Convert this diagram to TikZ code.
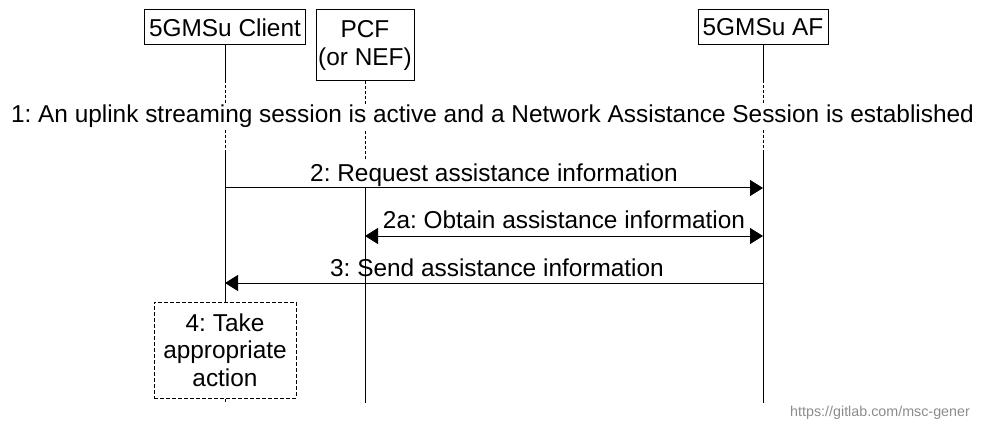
\documentclass[tikz,border=0pt]{standalone}
\usepackage{fontspec}
\setmainfont{Liberation Sans}
\usetikzlibrary{arrows.meta}
\begin{document}
\frenchspacing
\begin{tikzpicture}[x=1pt,y=-1pt,
  bigfont/.style={font=\fontsize{24.4}{28}\selectfont\frenchspacing},
  ent/.style={draw, line width=1pt, inner sep=0pt, align=center, bigfont},
  lbl/.style={inner sep=0pt, bigfont},
  msg/.style={line width=1pt, -{Triangle[length=13pt,width=16pt]}},
  bimsg/.style={line width=1pt, {Triangle[length=13pt,width=16pt]}-{Triangle[length=13pt,width=16pt]}},
  life/.style={line width=1pt},
  lifedash/.style={line width=1pt, dash pattern=on 3pt off 2pt},
  actbox/.style={draw, line width=1pt, dash pattern=on 4pt off 2pt, fill=white, inner sep=0pt, align=center, font=\fontsize{24.4}{27.5}\selectfont\frenchspacing}]
\useasboundingbox (0,0) rectangle (981,430);
\fill[white] (0,0) rectangle (981,430);

% entities
\node[ent, minimum width=161pt, minimum height=35pt] (cl) at (225,27.5) {5GMSu Client};
\node[ent, minimum width=98pt, minimum height=71pt] (pcf) at (365,45.5) {PCF\\(or NEF)};
\node[ent, minimum width=130pt, minimum height=35pt] (af) at (763,27.5) {5GMSu AF};

% action box
\node[actbox, minimum width=142pt, minimum height=96pt] (act) at (225,350) {4: Take\\appropriate\\action};

% lifeline coordinates
\coordinate (cL1) at (225,80);
\coordinate (cL2) at (225,150);
\coordinate (cL3) at (225,403);
\coordinate (pL1) at (365,160);
\coordinate (pL2) at (365,188);
\coordinate (pL3) at (365,403);
\coordinate (aL1) at (763,80);
\coordinate (aL2) at (763,150);
\coordinate (aL3) at (763,403);

% lifelines
\draw[life] (cl.south) -- (cL1);
\draw[lifedash] (cL1) -- (cL2);
\draw[life] (cL2) -- (act.north);
\draw[lifedash] (act.south) -- (cL3);
\draw[lifedash] (pcf.south) -- (pL1);
\draw[life] (pL2) -- (pL3);
\draw[life] (af.south) -- (aL1);
\draw[lifedash] (aL1) -- (aL2);
\draw[life] (aL2) -- (aL3);

% step 1
\node[lbl, fill=white, inner ysep=1pt, anchor=base] (t1) at (492.5,123) {1: An uplink streaming session is active and a Network Assistance Session is established};

% message endpoints
\coordinate (m2s) at (225,188);
\coordinate (m2e) at (763,188);
\coordinate (m2as) at (365,236);
\coordinate (m2ae) at (763,236);
\coordinate (m3s) at (763,283);
\coordinate (m3e) at (225,283);

% messages
\draw[msg] (m2s) -- (m2e);
\node[lbl, anchor=base] (l2) at (494,182) {2: Request assistance information};
\draw[bimsg] (m2as) -- (m2ae);
\node[lbl, anchor=base] (l2a) at (564,229) {2a: Obtain assistance information};
\draw[msg] (m3s) -- (m3e);
\node[lbl, anchor=base] (l3) at (497,276) {3: Send assistance information};

% watermark
\node[anchor=west, inner sep=0pt, text=black!45, font=\fontsize{14.3}{16}\selectfont] (wm) at (790,413) {https://gitlab.com/msc-gener};
\end{tikzpicture}
\end{document}
